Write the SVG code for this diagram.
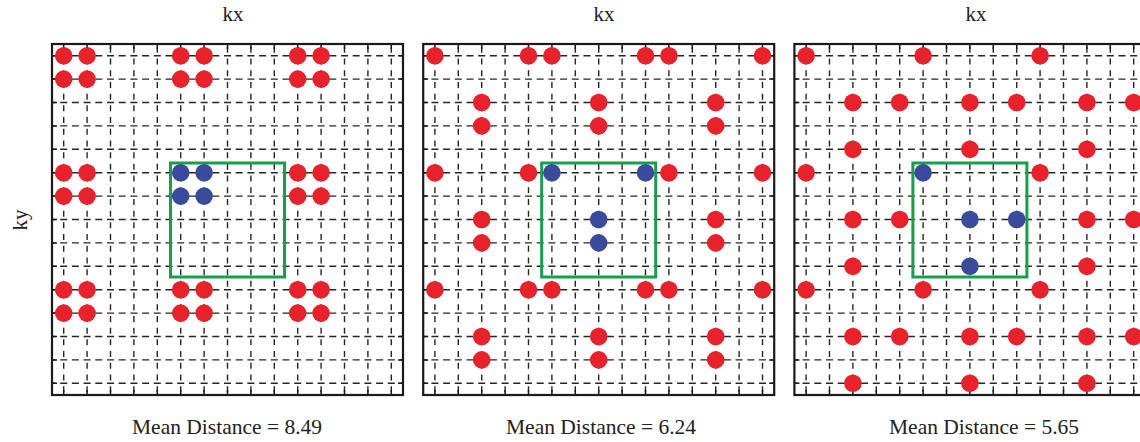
<svg xmlns="http://www.w3.org/2000/svg" xmlns:xlink="http://www.w3.org/1999/xlink" width="1140" height="442" viewBox="0 0 1140 442">
<style>
.bg{fill:#ffffff}
.frame{fill:none;stroke:#1a1a1a;stroke-width:2.2}
.gh{stroke:#262626;stroke-width:1.4;stroke-dasharray:7 4.7;stroke-dashoffset:3.5}
.gv{stroke:#262626;stroke-width:1.4;stroke-dasharray:6 5.7;stroke-dashoffset:-2.85}
.tick{stroke:#1a1a1a;stroke-width:1.5}
.red circle{fill:#e8212b;r:8.8}
.blue circle{fill:#3a4b9e;r:8.8}
.box{fill:none;stroke:#16a04c;stroke-width:3}
.lbl{font-family:"Liberation Serif","Times New Roman",serif;font-size:21px;fill:#222;text-anchor:middle}
.md{font-family:"Liberation Serif","Times New Roman",serif;font-size:21.5px;fill:#222;text-anchor:middle}
</style>
<defs>
<g id="grid">
<rect class="bg" x="0" y="0" width="351" height="351"/>
<g id="hlines">
<line class="gh" x1="0" y1="11.7" x2="351" y2="11.7"/>
<line class="gh" x1="0" y1="35.1" x2="351" y2="35.1"/>
<line class="gh" x1="0" y1="58.5" x2="351" y2="58.5"/>
<line class="gh" x1="0" y1="81.9" x2="351" y2="81.9"/>
<line class="gh" x1="0" y1="105.3" x2="351" y2="105.3"/>
<line class="gh" x1="0" y1="128.7" x2="351" y2="128.7"/>
<line class="gh" x1="0" y1="152.1" x2="351" y2="152.1"/>
<line class="gh" x1="0" y1="175.5" x2="351" y2="175.5"/>
<line class="gh" x1="0" y1="198.9" x2="351" y2="198.9"/>
<line class="gh" x1="0" y1="222.3" x2="351" y2="222.3"/>
<line class="gh" x1="0" y1="245.7" x2="351" y2="245.7"/>
<line class="gh" x1="0" y1="269.1" x2="351" y2="269.1"/>
<line class="gh" x1="0" y1="292.5" x2="351" y2="292.5"/>
<line class="gh" x1="0" y1="315.9" x2="351" y2="315.9"/>
<line class="gh" x1="0" y1="339.3" x2="351" y2="339.3"/>
</g>
<g id="vlines">
<line class="gv" y1="0" x1="11.7" y2="351" x2="11.7"/>
<line class="gv" y1="0" x1="35.1" y2="351" x2="35.1"/>
<line class="gv" y1="0" x1="58.5" y2="351" x2="58.5"/>
<line class="gv" y1="0" x1="81.9" y2="351" x2="81.9"/>
<line class="gv" y1="0" x1="105.3" y2="351" x2="105.3"/>
<line class="gv" y1="0" x1="128.7" y2="351" x2="128.7"/>
<line class="gv" y1="0" x1="152.1" y2="351" x2="152.1"/>
<line class="gv" y1="0" x1="175.5" y2="351" x2="175.5"/>
<line class="gv" y1="0" x1="198.9" y2="351" x2="198.9"/>
<line class="gv" y1="0" x1="222.3" y2="351" x2="222.3"/>
<line class="gv" y1="0" x1="245.7" y2="351" x2="245.7"/>
<line class="gv" y1="0" x1="269.1" y2="351" x2="269.1"/>
<line class="gv" y1="0" x1="292.5" y2="351" x2="292.5"/>
<line class="gv" y1="0" x1="315.9" y2="351" x2="315.9"/>
<line class="gv" y1="0" x1="339.3" y2="351" x2="339.3"/>
</g>
<path class="tick" d="M11.7 351v-5M35.1 351v-5M58.5 351v-5M81.9 351v-5M105.3 351v-5M128.7 351v-5M152.1 351v-5M175.5 351v-5M198.9 351v-5M222.3 351v-5M245.7 351v-5M269.1 351v-5M292.5 351v-5M315.9 351v-5M339.3 351v-5 M11.7 0v5M35.1 0v5M58.5 0v5M81.9 0v5M105.3 0v5M128.7 0v5M152.1 0v5M175.5 0v5M198.9 0v5M222.3 0v5M245.7 0v5M269.1 0v5M292.5 0v5M315.9 0v5M339.3 0v5 M0 11.7h5M0 35.1h5M0 58.5h5M0 81.9h5M0 105.3h5M0 128.7h5M0 152.1h5M0 175.5h5M0 198.9h5M0 222.3h5M0 245.7h5M0 269.1h5M0 292.5h5M0 315.9h5M0 339.3h5 M351 11.7h-5M351 35.1h-5M351 58.5h-5M351 81.9h-5M351 105.3h-5M351 128.7h-5M351 152.1h-5M351 175.5h-5M351 198.9h-5M351 222.3h-5M351 245.7h-5M351 269.1h-5M351 292.5h-5M351 315.9h-5M351 339.3h-5"/>
<rect class="frame" x="0" y="0" width="351" height="351"/>
</g>
</defs>

<g id="panel1" transform="translate(52,44)">
<use xlink:href="#grid" href="#grid"/>
<rect class="box" x="118.5" y="119" width="114" height="114"/>
<g class="red">
<circle cx="11.7" cy="11.7" r="8.8"/><circle cx="35.1" cy="11.7" r="8.8"/><circle cx="128.7" cy="11.7" r="8.8"/><circle cx="152.1" cy="11.7" r="8.8"/><circle cx="245.7" cy="11.7" r="8.8"/><circle cx="269.1" cy="11.7" r="8.8"/>
<circle cx="11.7" cy="35.1" r="8.8"/><circle cx="35.1" cy="35.1" r="8.8"/><circle cx="128.7" cy="35.1" r="8.8"/><circle cx="152.1" cy="35.1" r="8.8"/><circle cx="245.7" cy="35.1" r="8.8"/><circle cx="269.1" cy="35.1" r="8.8"/>
<circle cx="11.7" cy="128.7" r="8.8"/><circle cx="35.1" cy="128.7" r="8.8"/><circle cx="245.7" cy="128.7" r="8.8"/><circle cx="269.1" cy="128.7" r="8.8"/>
<circle cx="11.7" cy="152.1" r="8.8"/><circle cx="35.1" cy="152.1" r="8.8"/><circle cx="245.7" cy="152.1" r="8.8"/><circle cx="269.1" cy="152.1" r="8.8"/>
<circle cx="11.7" cy="245.7" r="8.8"/><circle cx="35.1" cy="245.7" r="8.8"/><circle cx="128.7" cy="245.7" r="8.8"/><circle cx="152.1" cy="245.7" r="8.8"/><circle cx="245.7" cy="245.7" r="8.8"/><circle cx="269.1" cy="245.7" r="8.8"/>
<circle cx="11.7" cy="269.1" r="8.8"/><circle cx="35.1" cy="269.1" r="8.8"/><circle cx="128.7" cy="269.1" r="8.8"/><circle cx="152.1" cy="269.1" r="8.8"/><circle cx="245.7" cy="269.1" r="8.8"/><circle cx="269.1" cy="269.1" r="8.8"/>
</g>
<g class="blue">
<circle cx="128.7" cy="128.7" r="8.8"/><circle cx="152.1" cy="128.7" r="8.8"/><circle cx="128.7" cy="152.1" r="8.8"/><circle cx="152.1" cy="152.1" r="8.8"/>
</g>
</g>

<g id="panel2" transform="translate(423.2,44)">
<use xlink:href="#grid" href="#grid"/>
<rect class="box" x="118.5" y="119" width="114" height="114"/>
<g class="red">
<circle cx="11.7" cy="11.7" r="8.8"/><circle cx="105.3" cy="11.7" r="8.8"/><circle cx="128.7" cy="11.7" r="8.8"/><circle cx="222.3" cy="11.7" r="8.8"/><circle cx="245.7" cy="11.7" r="8.8"/><circle cx="339.3" cy="11.7" r="8.8"/>
<circle cx="58.5" cy="58.5" r="8.8"/><circle cx="175.5" cy="58.5" r="8.8"/><circle cx="292.5" cy="58.5" r="8.8"/>
<circle cx="58.5" cy="81.9" r="8.8"/><circle cx="175.5" cy="81.9" r="8.8"/><circle cx="292.5" cy="81.9" r="8.8"/>
<circle cx="11.7" cy="128.7" r="8.8"/><circle cx="105.3" cy="128.7" r="8.8"/><circle cx="245.7" cy="128.7" r="8.8"/><circle cx="339.3" cy="128.7" r="8.8"/>
<circle cx="58.5" cy="175.5" r="8.8"/><circle cx="292.5" cy="175.5" r="8.8"/>
<circle cx="58.5" cy="198.9" r="8.8"/><circle cx="292.5" cy="198.9" r="8.8"/>
<circle cx="11.7" cy="245.7" r="8.8"/><circle cx="105.3" cy="245.7" r="8.8"/><circle cx="128.7" cy="245.7" r="8.8"/><circle cx="222.3" cy="245.7" r="8.8"/><circle cx="245.7" cy="245.7" r="8.8"/><circle cx="339.3" cy="245.7" r="8.8"/>
<circle cx="58.5" cy="292.5" r="8.8"/><circle cx="175.5" cy="292.5" r="8.8"/><circle cx="292.5" cy="292.5" r="8.8"/>
<circle cx="58.5" cy="315.9" r="8.8"/><circle cx="175.5" cy="315.9" r="8.8"/><circle cx="292.5" cy="315.9" r="8.8"/>
</g>
<g class="blue">
<circle cx="128.7" cy="128.7" r="8.8"/><circle cx="222.3" cy="128.7" r="8.8"/><circle cx="175.5" cy="175.5" r="8.8"/><circle cx="175.5" cy="198.9" r="8.8"/>
</g>
</g>

<g id="panel3" transform="translate(794.4,44)">
<use xlink:href="#grid" href="#grid"/>
<rect class="box" x="118.5" y="119" width="114" height="114"/>
<g class="red">
<circle cx="11.7" cy="11.7" r="8.8"/><circle cx="128.7" cy="11.7" r="8.8"/><circle cx="245.7" cy="11.7" r="8.8"/>
<circle cx="58.5" cy="58.5" r="8.8"/><circle cx="105.3" cy="58.5" r="8.8"/><circle cx="175.5" cy="58.5" r="8.8"/><circle cx="222.3" cy="58.5" r="8.8"/><circle cx="292.5" cy="58.5" r="8.8"/><circle cx="339.3" cy="58.5" r="8.8"/>
<circle cx="58.5" cy="105.3" r="8.8"/><circle cx="175.5" cy="105.3" r="8.8"/><circle cx="292.5" cy="105.3" r="8.8"/>
<circle cx="11.7" cy="128.7" r="8.8"/><circle cx="245.7" cy="128.7" r="8.8"/>
<circle cx="58.5" cy="175.5" r="8.8"/><circle cx="105.3" cy="175.5" r="8.8"/><circle cx="292.5" cy="175.5" r="8.8"/><circle cx="339.3" cy="175.5" r="8.8"/>
<circle cx="58.5" cy="222.3" r="8.8"/><circle cx="292.5" cy="222.3" r="8.8"/>
<circle cx="11.7" cy="245.7" r="8.8"/><circle cx="128.7" cy="245.7" r="8.8"/><circle cx="245.7" cy="245.7" r="8.8"/>
<circle cx="58.5" cy="292.5" r="8.8"/><circle cx="105.3" cy="292.5" r="8.8"/><circle cx="175.5" cy="292.5" r="8.8"/><circle cx="222.3" cy="292.5" r="8.8"/><circle cx="292.5" cy="292.5" r="8.8"/><circle cx="339.3" cy="292.5" r="8.8"/>
<circle cx="58.5" cy="339.3" r="8.8"/><circle cx="175.5" cy="339.3" r="8.8"/><circle cx="292.5" cy="339.3" r="8.8"/>
</g>
<g class="blue">
<circle cx="128.7" cy="128.7" r="8.8"/><circle cx="175.5" cy="175.5" r="8.8"/><circle cx="222.3" cy="175.5" r="8.8"/><circle cx="175.5" cy="222.3" r="8.8"/>
</g>
</g>

<g id="labels">
<text class="lbl" x="233" y="21">kx</text>
<text class="lbl" x="604" y="21">kx</text>
<text class="lbl" x="976" y="21">kx</text>
<text class="lbl" transform="translate(27,220) rotate(-90)">ky</text>
<text class="md" x="227" y="434">Mean Distance = 8.49</text>
<text class="md" x="601" y="434">Mean Distance = 6.24</text>
<text class="md" x="984" y="434">Mean Distance = 5.65</text>
</g>
</svg>
